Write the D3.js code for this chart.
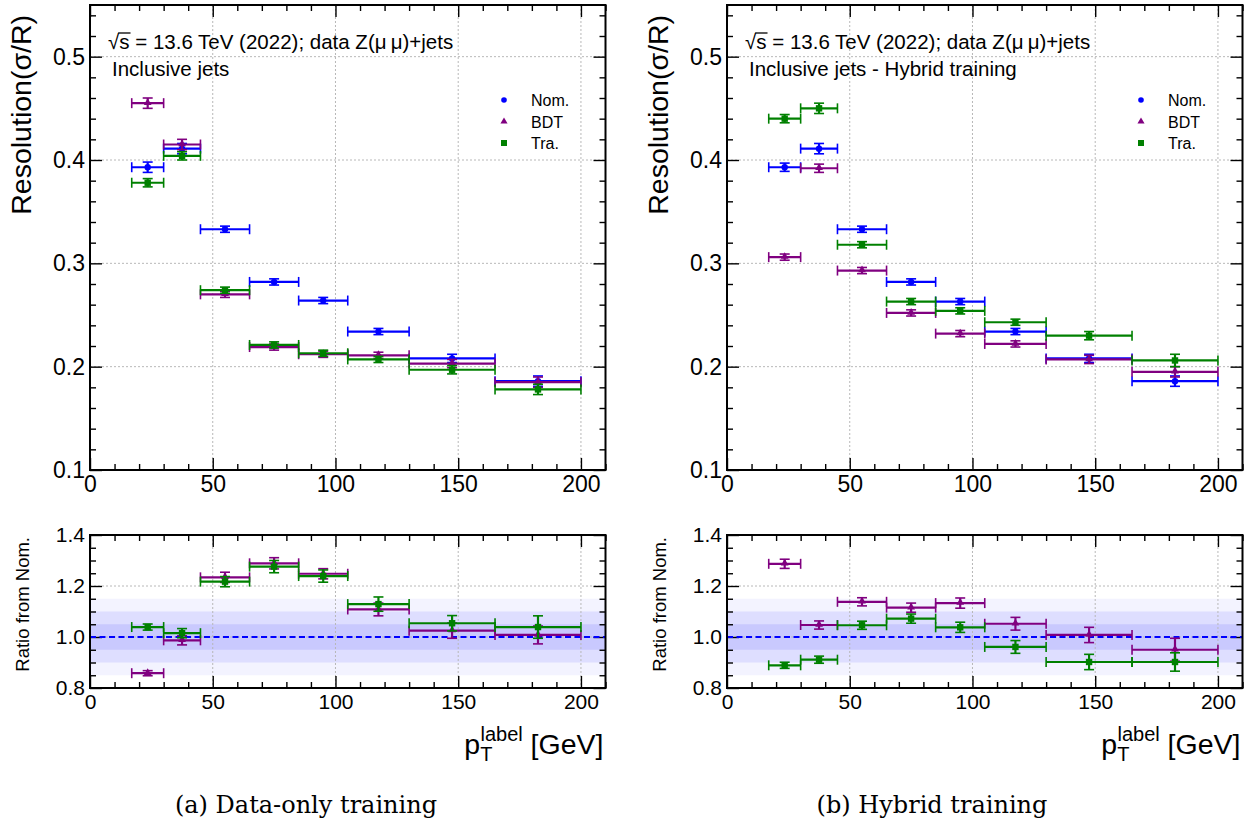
<!DOCTYPE html>
<html>
<head>
<meta charset="utf-8">
<script src="https://cdn.jsdelivr.net/npm/d3@7"></script>
<style>
  body { margin: 0; background: #fff; }
  text { font-family: "Liberation Sans", Arial, sans-serif; fill: #000; }
</style>
</head>
<body>
<svg id="chart" width="1251" height="827"></svg>
<script>
// ---- data ----
const binEdges = [17, 30, 45, 65, 85, 105, 130, 165, 200];

// (a) data-only training: resolution sigma/R
const nomA = [0.393, 0.411, 0.333, 0.282, 0.264, 0.234, 0.208, 0.186];
const bdtA = [0.455, 0.415, 0.270, 0.219, 0.212, 0.211, 0.203, 0.185];
const traA = [0.378, 0.404, 0.274, 0.221, 0.213, 0.207, 0.197, 0.178];
const nomAErr = [0.005, 0.005, 0.003, 0.003, 0.003, 0.003, 0.004, 0.005];
const bdtAErr = [0.005, 0.005, 0.003, 0.003, 0.003, 0.003, 0.004, 0.005];
const traAErr = [0.004, 0.004, 0.003, 0.003, 0.003, 0.003, 0.004, 0.005];

// (b) hybrid training
const nomB = [0.393, 0.411, 0.333, 0.282, 0.263, 0.234, 0.208, 0.186];
const bdtB = [0.306, 0.392, 0.293, 0.252, 0.232, 0.222, 0.207, 0.195];
const traB = [0.440, 0.450, 0.318, 0.263, 0.254, 0.243, 0.230, 0.206];
const nomBErr = [0.004, 0.005, 0.003, 0.003, 0.003, 0.003, 0.004, 0.005];
const bdtBErr = [0.003, 0.004, 0.003, 0.003, 0.003, 0.003, 0.004, 0.005];
const traBErr = [0.004, 0.005, 0.003, 0.003, 0.003, 0.003, 0.004, 0.006];

// ratio from Nom.
const bdtRatioA = [0.858, 0.987, 1.234, 1.289, 1.248, 1.108, 1.025, 1.008];
const traRatioA = [1.039, 1.015, 1.217, 1.276, 1.239, 1.129, 1.054, 1.039];
const bdtRatioAErr = [0.010, 0.018, 0.020, 0.022, 0.020, 0.025, 0.030, 0.035];
const traRatioAErr = [0.012, 0.018, 0.020, 0.024, 0.024, 0.028, 0.030, 0.044];
const bdtRatioB = [1.287, 1.047, 1.138, 1.115, 1.133, 1.052, 1.008, 0.950];
const traRatioB = [0.889, 0.911, 1.046, 1.072, 1.038, 0.961, 0.902, 0.902];
const bdtRatioBErr = [0.018, 0.016, 0.016, 0.018, 0.020, 0.025, 0.030, 0.045];
const traRatioBErr = [0.012, 0.014, 0.016, 0.018, 0.020, 0.025, 0.030, 0.036];

const seriesNames = ["Nom.", "BDT", "Tra."];
const seriesColors = ["#0000ff", "#800080", "#008000"];
const bandLevels = [0.15, 0.10, 0.05];
const bandColors = ["#f3f3ff", "#dedeff", "#c9c9fe"];

// ---- layout ----
const svg = d3.select("#chart");
const plotW = 515.5, topY = 5, topH = 465, ratioY = 535, ratioH = 153;

const x = d3.scaleLinear().domain([0, 210]).range([0, plotW]);
const yTop = d3.scaleLinear().domain([0.1, 0.55]).range([topH, 0]);
const yRat = d3.scaleLinear().domain([0.8, 1.4]).range([ratioH, 0]);

const xMajor = [0, 50, 100, 150, 200];
const xMinor = d3.range(0, 211, 10).filter(v => v % 50 !== 0);

function drawAxes(g, y, h, yMajor, yMinor, fmt, labelSize) {
  // grid
  g.append("g").selectAll("line").data(xMajor.filter(v => v > 0)).join("line")
    .attr("x1", d => x(d)).attr("x2", d => x(d)).attr("y1", 0).attr("y2", h)
    .attr("stroke", "#b8b8b8").attr("stroke-width", 1).attr("stroke-dasharray", "2,2");
  g.append("g").selectAll("line").data(yMajor.filter(v => y(v) > 1 && y(v) < h - 1)).join("line")
    .attr("x1", 0).attr("x2", plotW).attr("y1", d => y(d)).attr("y2", d => y(d))
    .attr("stroke", "#b8b8b8").attr("stroke-width", 1).attr("stroke-dasharray", "2,2");

  const style = a => {
    a.select(".domain").remove();
    a.selectAll(".tick line").attr("stroke", "#000").attr("stroke-width", 1.4);
    a.selectAll(".tick text").style("font-size", labelSize + "px").attr("fill", "#000");
  };
  g.append("g").call(d3.axisLeft(y).tickValues(yMajor).tickSize(-12).tickPadding(5).tickFormat(fmt)).call(style);
  g.append("g").call(d3.axisLeft(y).tickValues(yMinor).tickSize(-6).tickFormat("")).call(style);
  g.append("g").attr("transform", `translate(${plotW},0)`)
    .call(d3.axisRight(y).tickValues(yMajor).tickSize(-12).tickFormat("")).call(style);
  g.append("g").attr("transform", `translate(${plotW},0)`)
    .call(d3.axisRight(y).tickValues(yMinor).tickSize(-6).tickFormat("")).call(style);
  g.append("g").attr("transform", `translate(0,${h})`)
    .call(d3.axisBottom(x).tickValues(xMajor).tickSize(-12).tickPadding(6).tickFormat(d3.format("d"))).call(style);
  g.append("g").attr("transform", `translate(0,${h})`)
    .call(d3.axisBottom(x).tickValues(xMinor).tickSize(-6).tickFormat("")).call(style);
  g.append("g").call(d3.axisTop(x).tickValues(xMajor).tickSize(-12).tickFormat("")).call(style);
  g.append("g").call(d3.axisTop(x).tickValues(xMinor).tickSize(-6).tickFormat("")).call(style);
}

function drawFrame(g, h) {
  g.append("rect").attr("width", plotW).attr("height", h)
    .attr("fill", "none").attr("stroke", "#000").attr("stroke-width", 2);
}

function marker(g, kind, cx, cy, color) {
  if (kind === 0) {
    g.append("circle").attr("cx", cx).attr("cy", cy).attr("r", 3.2).attr("fill", color);
  } else if (kind === 1) {
    g.append("path").attr("d", d3.symbol(d3.symbolTriangle, 26)())
      .attr("transform", `translate(${cx},${cy - 0.5})`).attr("fill", color);
  } else {
    g.append("rect").attr("x", cx - 3.2).attr("y", cy - 3.2).attr("width", 6.4).attr("height", 6.4).attr("fill", color);
  }
}

function drawSeries(g, y, vals, errs, kind) {
  const color = seriesColors[kind];
  const s = g.append("g").attr("stroke", color).attr("stroke-width", 2.2);
  vals.forEach((v, i) => {
    const lo = binEdges[i], hi = binEdges[i + 1], c = (lo + hi) / 2;
    const yy = y(v), y1 = y(v + errs[i]), y2 = y(v - errs[i]);
    s.append("line").attr("x1", x(lo)).attr("x2", x(hi)).attr("y1", yy).attr("y2", yy);
    s.append("line").attr("x1", x(lo)).attr("x2", x(lo)).attr("y1", yy - 5).attr("y2", yy + 5).attr("stroke-width", 1.6);
    s.append("line").attr("x1", x(hi)).attr("x2", x(hi)).attr("y1", yy - 5).attr("y2", yy + 5).attr("stroke-width", 1.6);
    s.append("line").attr("x1", x(c)).attr("x2", x(c)).attr("y1", y1).attr("y2", y2);
    s.append("line").attr("x1", x(c) - 5).attr("x2", x(c) + 5).attr("y1", y1).attr("y2", y1).attr("stroke-width", 1.6);
    s.append("line").attr("x1", x(c) - 5).attr("x2", x(c) + 5).attr("y1", y2).attr("y2", y2).attr("stroke-width", 1.6);
    marker(g, kind, x(c), yy, color);
  });
}

function panel(x0, subtitle, top, topErr, ratio, ratioErr, caption, captionX) {
  // ---- upper pad ----
  const gT = svg.append("g").attr("transform", `translate(${x0},${topY})`);
  drawAxes(gT, yTop, topH, [0.1, 0.2, 0.3, 0.4, 0.5],
    d3.range(0.12, 0.55, 0.02).filter(v => Math.abs(v * 10 - Math.round(v * 10)) > 0.01), d3.format(".1f"), 23);
  top.forEach((vals, k) => drawSeries(gT, yTop, vals, topErr[k], k));
  drawFrame(gT, topH);

  // energy label
  const t1 = gT.append("text").attr("x", 18).attr("y", 44).style("font-size", "20.5px");
  t1.append("tspan").text("\u221A");
  const sSpan = t1.append("tspan").text("s");
  t1.append("tspan").text(" = 13.6 TeV (2022); data Z(\u03BC\u2009\u03BC)+jets");
  const sx = sSpan.node().getStartPositionOfChar(0).x;
  const sw = sSpan.node().getComputedTextLength();
  gT.append("line").attr("x1", sx - 1).attr("x2", sx + sw + 1).attr("y1", 28).attr("y2", 28)
    .attr("stroke", "#000").attr("stroke-width", 1.3);
  gT.append("text").attr("x", 22).attr("y", 71).style("font-size", "20.5px").text(subtitle);

  // legend
  const lg = gT.append("g").attr("transform", "translate(414,95)");
  seriesNames.forEach((n, k) => {
    const ly = k * 21.5;
    if (k === 0) lg.append("circle").attr("cx", 0).attr("cy", ly).attr("r", 2.8).attr("fill", seriesColors[k]);
    else if (k === 1) lg.append("path").attr("d", d3.symbol(d3.symbolTriangle, 22)()).attr("transform", `translate(0,${ly})`).attr("fill", seriesColors[k]);
    else lg.append("rect").attr("x", -3).attr("y", ly - 3).attr("width", 6).attr("height", 6).attr("fill", seriesColors[k]);
    lg.append("text").attr("x", 27).attr("y", ly + 6).style("font-size", "16px").text(n);
  });

  // ---- ratio pad ----
  const gR = svg.append("g").attr("transform", `translate(${x0},${ratioY})`);
  bandLevels.forEach((b, i) => {
    gR.append("rect").attr("x", 0).attr("width", plotW)
      .attr("y", yRat(1 + b)).attr("height", yRat(1 - b) - yRat(1 + b)).attr("fill", bandColors[i]);
  });
  drawAxes(gR, yRat, ratioH, [0.8, 1.0, 1.2, 1.4],
    [0.85, 0.9, 0.95, 1.05, 1.1, 1.15, 1.25, 1.3, 1.35], d3.format(".1f"), 21);
  gR.append("line").attr("x1", 0).attr("x2", plotW).attr("y1", yRat(1)).attr("y2", yRat(1))
    .attr("stroke", "#0000ff").attr("stroke-width", 2).attr("stroke-dasharray", "6,3.5");
  ratio.forEach((vals, k) => drawSeries(gR, yRat, vals, ratioErr[k], k + 1));
  drawFrame(gR, ratioH);

  // axis titles
  svg.append("text").attr("transform", `translate(${x0 - 59},${topY + 10}) rotate(-90)`)
    .attr("text-anchor", "end").style("font-size", "28.5px").text("Resolution(\u03C3/R)");
  svg.append("text").attr("transform", `translate(${x0 - 61},${ratioY + 2}) rotate(-90)`)
    .attr("text-anchor", "end").style("font-size", "18.5px").text("Ratio from Nom.");

  const xl = svg.append("text").attr("x", x0 + plotW - 2).attr("y", 754)
    .attr("text-anchor", "end").style("font-size", "28.5px");
  xl.append("tspan").text("p");
  xl.append("tspan").attr("dy", 7).style("font-size", "20px").text("T");
  xl.append("tspan").attr("dx", -12).attr("dy", -20).style("font-size", "20px").text("label");
  xl.append("tspan").attr("dy", 13).text(" [GeV]");

  svg.append("text").attr("x", captionX).attr("y", 813).attr("text-anchor", "middle")
    .style("font-family", "'DejaVu Serif', 'Liberation Serif', serif").style("font-size", "24px")
    .text(caption);
}

panel(90, "Inclusive jets", [nomA, bdtA, traA], [nomAErr, bdtAErr, traAErr],
  [bdtRatioA, traRatioA], [bdtRatioAErr, traRatioAErr], "(a) Data-only training", 306);
panel(727, "Inclusive jets - Hybrid training", [nomB, bdtB, traB], [nomBErr, bdtBErr, traBErr],
  [bdtRatioB, traRatioB], [bdtRatioBErr, traRatioBErr], "(b) Hybrid training", 932);
</script>
</body>
</html>
